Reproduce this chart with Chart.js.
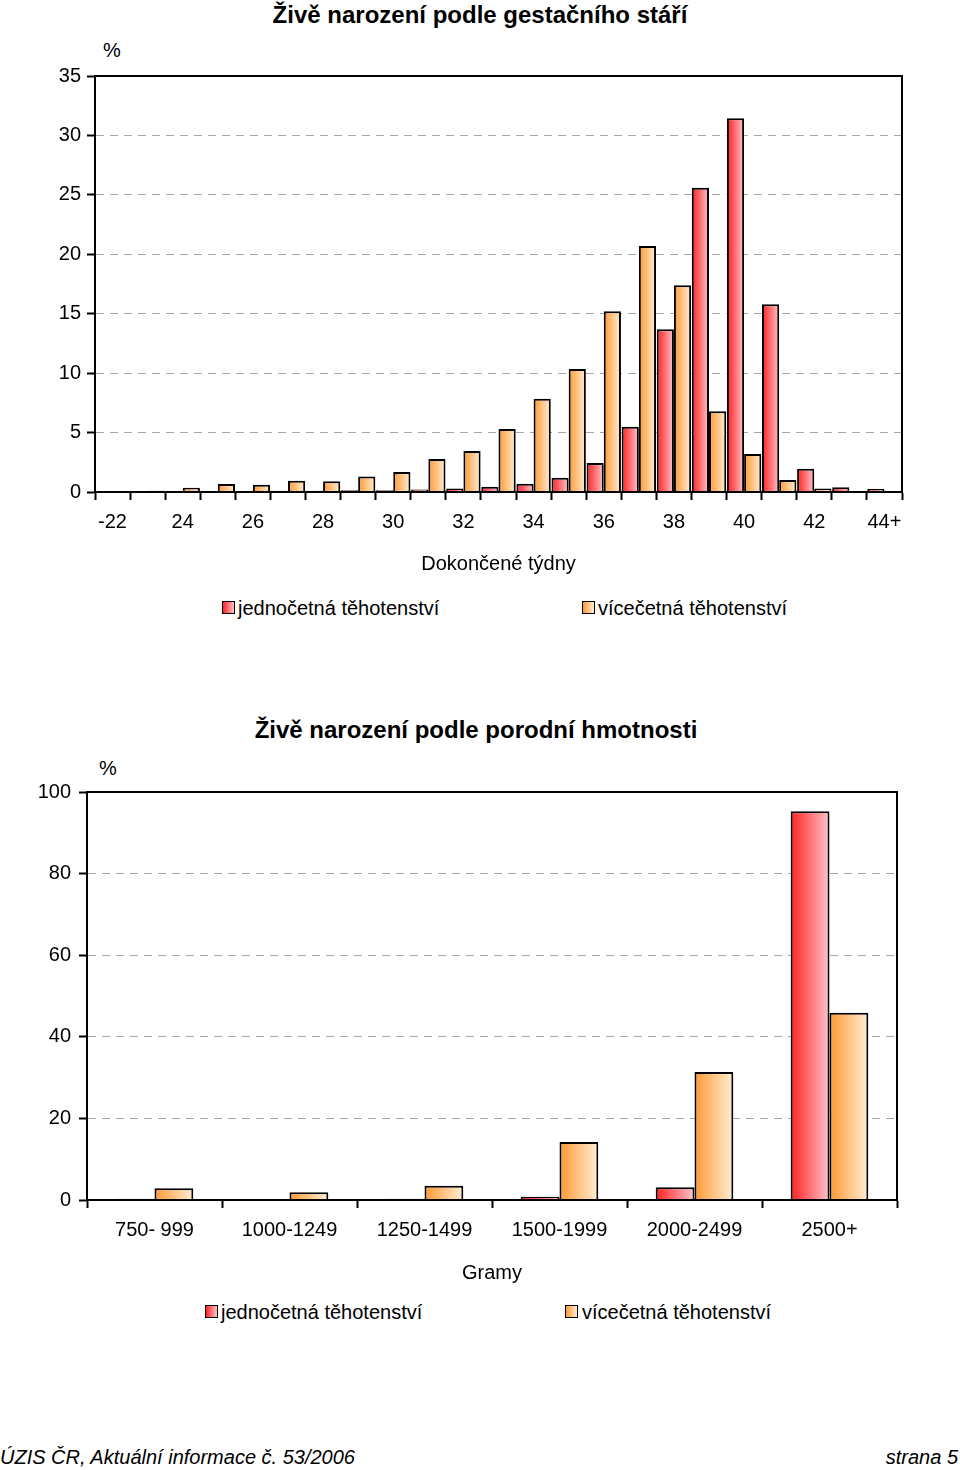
<!DOCTYPE html>
<html>
<head>
<meta charset="utf-8">
<script src="https://cdn.jsdelivr.net/npm/chart.js@4.4.0/dist/chart.umd.min.js"></script>
<style>
  body { margin: 0; background: #fff; font-family: "Liberation Sans", Arial, sans-serif; color: #000; }
  #page { position: relative; width: 960px; height: 1470px; overflow: hidden; }
  .abs { position: absolute; white-space: nowrap; line-height: 1; }
  .title { font-weight: bold; font-size: 24px; }
  .txt { font-size: 20px; }
  .box { position: absolute; width: 11px; height: 11px; border: 1px solid #000; }
  .red { background: linear-gradient(to right, #ff2020, #ffc4cc); }
  .orange { background: linear-gradient(to right, #ff9933, #ffeed6); }
  canvas { position: absolute; left: 0; }
</style>
</head>
<body>
<div id="page">
  <div class="abs title" style="left:0;width:960px;text-align:center;top:3px;">Živě narození podle gestačního stáří</div>
  <div class="abs txt" style="left:103px;top:40px;">%</div>
  <div style="position:absolute;top:0;left:0;width:960px;height:576px;"><canvas id="weeks"></canvas></div>
  <div class="box red" style="left:222px;top:601px;"></div>
  <div class="abs txt" style="left:238px;top:598px;">jednočetná těhotenství</div>
  <div class="box orange" style="left:582px;top:601px;"></div>
  <div class="abs txt" style="left:598px;top:598px;">vícečetná těhotenství</div>

  <div class="abs title" style="left:0;width:952px;text-align:center;top:718px;">Živě narození podle porodní hmotnosti</div>
  <div class="abs txt" style="left:99px;top:758px;">%</div>
  <div style="position:absolute;top:700px;left:0;width:960px;height:585px;"><canvas id="weight"></canvas></div>
  <div class="box red" style="left:205px;top:1305px;"></div>
  <div class="abs txt" style="left:221px;top:1302px;">jednočetná těhotenství</div>
  <div class="box orange" style="left:565px;top:1305px;"></div>
  <div class="abs txt" style="left:582px;top:1302px;">vícečetná těhotenství</div>

  <div class="abs" style="left:0;top:1447px;font-size:20px;font-style:italic;">ÚZIS ČR, Aktuální informace č. 53/2006</div>
  <div class="abs" style="right:2px;top:1447px;font-size:20px;font-style:italic;">strana 5</div>
</div>
<script>
// gestacni stari (dokoncene tydny)
var weekLabels = ['-22', '23', '24', '25', '26', '27', '28', '29', '30', '31', '32', '33',
  '34', '35', '36', '37', '38', '39', '40', '41', '42', '43', '44+'];
var weekSingle = [0.02, 0.03, 0.03, 0.05, 0.05, 0.1, 0.1, 0.15, 0.15, 0.2, 0.3, 0.45,
  0.7, 1.2, 2.45, 5.5, 13.7, 25.6, 31.45, 15.8, 1.95, 0.4, 0.25];
var weekMultiple = [0.02, 0.1, 0.36, 0.67, 0.6, 0.95, 0.9, 1.3, 1.68, 2.78, 3.45, 5.3,
  7.85, 10.35, 15.2, 20.7, 17.4, 6.8, 3.2, 1.0, 0.3, 0.05, 0.05];

// porodni hmotnost (gramy)
var weightLabels = ['750- 999', '1000-1249', '1250-1499', '1500-1999', '2000-2499', '2500+'];
var weightSingle = [0.3, 0.25, 0.3, 0.8, 3.1, 95.3];
var weightMultiple = [2.9, 1.9, 3.5, 14.2, 31.4, 45.9];

var labelSingle = 'jednočetná těhotenství';
var labelMultiple = 'vícečetná těhotenství';

Chart.defaults.font.family = '"Liberation Sans", Arial, sans-serif';
Chart.defaults.font.size = 20;
Chart.defaults.color = '#000';

function barFill(ctx, from, to, side, catPct) {
  var chart = ctx.chart;
  var xs = chart.scales.x;
  if (ctx.type !== 'data' || !xs || !chart.chartArea) return from;
  var c = xs.getPixelForValue(ctx.dataIndex);
  var cw = xs.getPixelForValue(1) - xs.getPixelForValue(0);
  var bw = cw * catPct / 2;
  var x0 = side < 0 ? c - bw : c;
  var g = chart.ctx.createLinearGradient(x0, 0, x0 + bw, 0);
  g.addColorStop(0, from);
  g.addColorStop(1, to);
  return g;
}

var frame = {
  id: 'frame',
  afterDatasetsDraw: function(chart) {
    var a = chart.chartArea;
    var c = chart.ctx;
    c.save();
    c.strokeStyle = '#000';
    c.lineWidth = 2;
    c.strokeRect(a.left, a.top, a.right - a.left, a.bottom - a.top);
    c.restore();
  }
};

function makeChart(id, labels, single, multiple, opt) {
  return new Chart(document.getElementById(id), {
    type: 'bar',
    data: {
      labels: labels,
      datasets: [{
        label: labelSingle,
        data: single,
        backgroundColor: function(ctx) { return barFill(ctx, '#ff2020', '#ffc4cc', -1, opt.catPct); },
        borderColor: '#000',
        borderWidth: 2,
        categoryPercentage: opt.catPct,
        barPercentage: 1
      }, {
        label: labelMultiple,
        data: multiple,
        backgroundColor: function(ctx) { return barFill(ctx, '#ff9933', '#ffeed6', 1, opt.catPct); },
        borderColor: '#000',
        borderWidth: 2,
        categoryPercentage: opt.catPct,
        barPercentage: 1
      }]
    },
    options: {
      responsive: true,
      maintainAspectRatio: false,
      animation: false,
      layout: { padding: { top: opt.top, right: opt.right, bottom: 0, left: 0 } },
      plugins: { legend: { display: false }, title: { display: false }, tooltip: { enabled: false } },
      scales: {
        x: {
          grid: { drawOnChartArea: false, tickLength: 8, tickColor: '#000', tickWidth: 2, offset: true },
          border: { color: '#000', width: 2 },
          ticks: {
            padding: 10,
            maxRotation: 0,
            autoSkip: false,
            callback: function(v, i) { return i % opt.every === 0 ? this.getLabelForValue(v) : ''; }
          },
          title: { display: true, text: opt.xTitle, padding: { top: opt.titlePad, bottom: 0 } }
        },
        y: {
          min: 0,
          max: opt.max,
          ticks: { stepSize: opt.step, padding: opt.yPad },
          afterFit: function(s) { s.width = opt.yWidth; },
          grid: {
            tickLength: 8,
            tickColor: '#000',
            tickWidth: 2,
            color: function(ctx) {
              var v = ctx.tick ? ctx.tick.value : 0;
              return (v === 0 || v === opt.max) ? 'rgba(0,0,0,0)' : '#a8a8a8';
            },
            lineWidth: 1
          },
          border: { color: '#000', width: 2, dash: [8, 6] }
        }
      }
    },
    plugins: [frame]
  });
}

makeChart('weeks', weekLabels, weekSingle, weekMultiple, {
  catPct: 0.98, every: 2, max: 35, step: 5, top: 76, right: 58, yWidth: 95, yPad: 6,
  xTitle: 'Dokončené týdny', titlePad: 8
});

makeChart('weight', weightLabels, weightSingle, weightMultiple, {
  catPct: 0.575, every: 1, max: 100, step: 20, top: 92, right: 63, yWidth: 87, yPad: 8,
  xTitle: 'Gramy', titlePad: 9
});
</script>
</body>
</html>
